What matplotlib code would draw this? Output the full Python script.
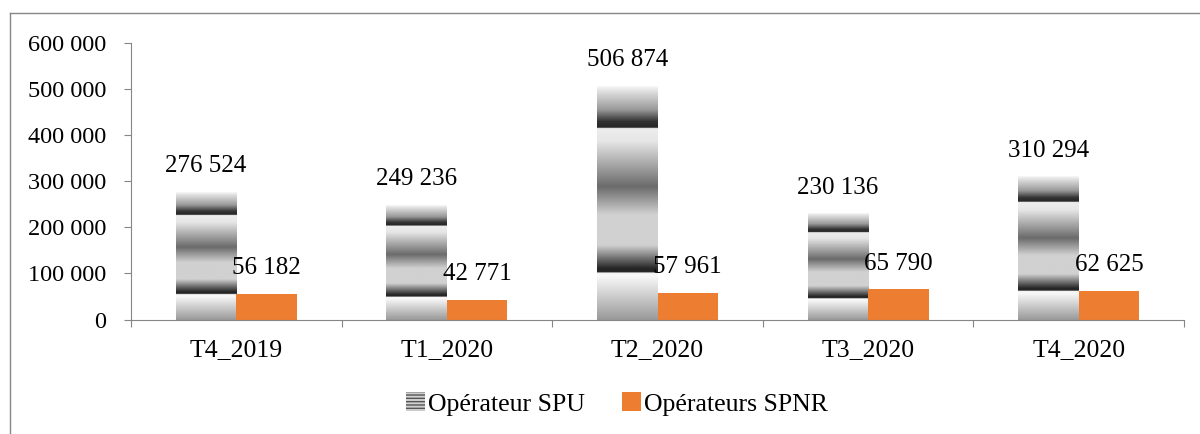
import numpy as np
import matplotlib.pyplot as plt
from matplotlib.patches import Patch
from matplotlib.lines import Line2D

periodes = ['T4_2019', 'T1_2020', 'T2_2020', 'T3_2020', 'T4_2020']
spu = [276524, 249236, 506874, 230136, 310294]
spnr = [56182, 42771, 57961, 65790, 62625]

orange = '#ED7D31'
gris = '#868686'
plt.rcParams['font.family'] = ['Liberation Serif', 'DejaVu Serif']

def fmt(v):
    return f'{v:,}'.replace(',', ' ')

fig = plt.figure(figsize=(12, 4.34), dpi=100)
ax = fig.add_axes([0.1092, 0.2638, 0.8775, 0.6378])

x = np.arange(len(periodes))
w = 0.287

# banded grey gradient used by the SPU bars (top -> bottom)
f_nodes = [0, 0.015, 0.1, 0.15, 0.176, 0.18, 0.235, 0.43, 0.55, 0.68, 0.78, 0.795, 0.80, 0.815, 1.0]
g_nodes = [0.97, 0.9, 0.6, 0.2, 0.15, 0.93, 0.9, 0.42, 0.82, 0.82, 0.15, 0.15, 0.97, 0.97, 0.6]
ff = np.linspace(0, 1, 400)
prof = np.interp(ff, f_nodes, g_nodes).reshape(-1, 1)

bars1 = ax.bar(x - w/2, spu, w, color='none', edgecolor='none', label='Opérateur SPU')
for b in bars1:
    x0 = b.get_x()
    ax.imshow(prof, cmap='gray', vmin=0, vmax=1, aspect='auto', origin='upper',
              extent=[x0, x0 + b.get_width(), 0, b.get_height()], zorder=2)
bars2 = ax.bar(x + w/2, spnr, w, color=orange, zorder=2)

for xi, v in zip(x - w/2, spu):
    ax.annotate(fmt(v), (xi, v), xytext=(0, 14), textcoords='offset points',
                ha='center', va='baseline', fontsize=18)
for xi, v in zip(x + w/2, spnr):
    ax.annotate(fmt(v), (xi, v), xytext=(0, 14), textcoords='offset points',
                ha='center', va='baseline', fontsize=18)

ax.set_xlim(-0.5, len(periodes) - 0.5)
ax.set_ylim(0, 600000)
ax.set_yticks(np.arange(0, 600001, 100000))
ax.set_yticklabels([fmt(v) for v in range(0, 600001, 100000)], fontsize=17.5)
ax.set_xticks(np.arange(-0.5, len(periodes)), labels=[''] * (len(periodes) + 1))
ax.set_xticks(x, labels=periodes, minor=True, fontsize=18.5)
ax.tick_params(axis='x', which='minor', length=0, pad=14)
ax.tick_params(axis='x', which='major', length=5, color=gris, direction='out')
ax.tick_params(axis='y', length=5, color=gris, pad=13)

for s in ['top', 'right']:
    ax.spines[s].set_visible(False)
for s in ['left', 'bottom']:
    ax.spines[s].set_color(gris)

handles = [Patch(facecolor='#cfcfcf', edgecolor='#555555', hatch='-----', linewidth=0),
           Patch(facecolor=orange)]
fig.legend(handles, ['Opérateur SPU', 'Opérateurs SPNR'], loc='center',
           bbox_to_anchor=(0.514, 0.069), ncol=2, frameon=False, fontsize=18.5,
           handlelength=0.75, handleheight=0.75, handletextpad=0.1, columnspacing=1.45)

# outer chart frame
fig.add_artist(Line2D([10/1200, 10/1200], [0, 1 - 13/434], color=gris, lw=1, transform=fig.transFigure))
fig.add_artist(Line2D([10/1200, 1], [1 - 13/434, 1 - 13/434], color=gris, lw=1, transform=fig.transFigure))

fig.savefig('out.png', dpi=100)
